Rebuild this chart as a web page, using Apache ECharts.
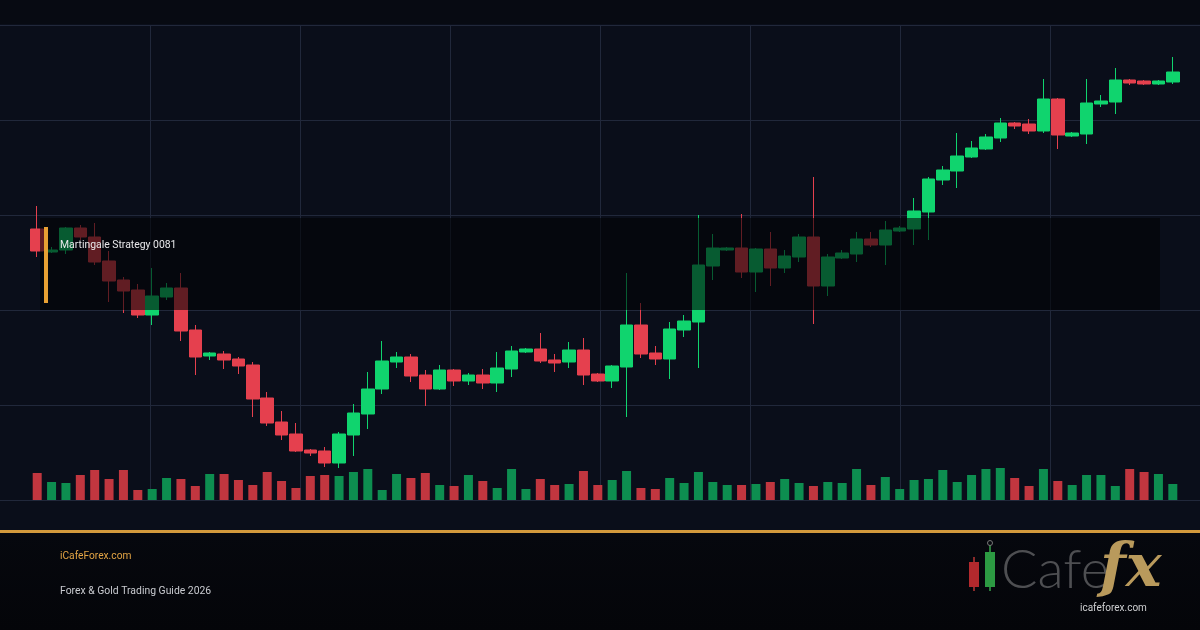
<!DOCTYPE html>
<html>
<head>
<meta charset="utf-8">
<script src="https://cdn.jsdelivr.net/npm/echarts@6/dist/echarts.min.js"></script>
<style>
html,body{margin:0;padding:0;background:#0a0e1a;}
#chart{width:1200px;height:630px;}
</style>
</head>
<body>
<div id="chart"></div>
<script>
// ---- data ----
const categories = [];
for (let i = 1; i <= 80; i++) categories.push('D' + i);

const opens  = [2171,2148,2150,2172,2163,2139,2120,2110,2085,2103,
                2112,2070,2044,2046,2041,2035,2002,1978,1966,1950,
                1949,1937,1965,1986,2011,2038,2043,2025,2011,2030,
                2019,2025,2017,2031,2048,2051,2040,2038,2050,2026,
                2019,2033,2075,2047,2041,2070,2078,2134,2150,2152,
                2128,2151,2132,2143,2163,2114,2142,2146,2161,2155,
                2169,2171,2188,2220,2229,2243,2251,2262,2277,2276,
                2269,2301,2264,2266,2296,2298,2320,2319,2316,2318];
const closes = [2149,2150,2172,2163,2138,2119,2109,2085,2104,2112,
                2069,2043,2047,2040,2034,2001,1977,1965,1949,1947,
                1937,1966,1987,2011,2039,2043,2024,2011,2030,2019,
                2025,2017,2032,2049,2051,2039,2037,2050,2025,2019,
                2034,2075,2046,2041,2071,2079,2135,2152,2152,2128,
                2151,2132,2144,2163,2114,2143,2147,2161,2155,2170,
                2172,2189,2221,2230,2244,2252,2263,2277,2274,2269,
                2301,2265,2267,2297,2299,2320,2317,2316,2319,2328];
const lows   = [2143,2147,2146,2160,2135,2098,2087,2082,2075,2100,
                2059,2025,2040,2031,2026,1983,1974,1960,1948,1944,
                1933,1932,1944,1971,2006,2032,2018,1994,2010,2014,
                2015,2011,2008,2023,2047,2037,2028,2032,2015,2018,
                2012,1983,2042,2035,2021,2063,2032,2120,2149,2122,
                2108,2114,2127,2138,2076,2104,2141,2138,2153,2135,
                2168,2155,2160,2215,2212,2242,2250,2258,2271,2266,
                2267,2251,2263,2256,2293,2286,2315,2315,2315,2316];
const highs  = [2194,2153,2173,2175,2177,2149,2123,2116,2132,2117,
                2127,2075,2048,2049,2043,2038,2008,1989,1977,1951,
                1953,1968,1996,2028,2059,2048,2046,2030,2035,2031,
                2027,2031,2048,2054,2052,2067,2046,2058,2062,2027,
                2035,2127,2097,2054,2078,2085,2185,2166,2153,2186,
                2152,2168,2150,2166,2223,2146,2150,2168,2168,2179,
                2174,2202,2223,2234,2267,2259,2266,2282,2278,2281,
                2321,2302,2268,2321,2305,2332,2321,2320,2320,2343];
const volumes = [2700,1800,1700,2500,3000,2100,3000,1000,1100,2200,
                 2100,1400,2600,2600,2000,1500,2800,1900,1200,2400,
                 2500,2400,2800,3100,1000,2600,2200,2700,1500,1400,
                 2500,1900,1200,3100,1100,2100,1500,1600,2900,1500,
                 2000,2900,1200,1100,2200,1700,2800,1800,1500,1500,
                 1600,1800,2100,1700,1400,1800,1700,3100,1500,2300,
                 1100,2000,2100,3000,1800,2500,3100,3200,2200,1400,
                 3100,1900,1500,2500,2500,1400,3100,2800,2600,1600];

const priceMin = 1900, priceMax = 2375, priceStep = 95;
const overlayLabel = 'Martingale Strategy 0081';
const footerSite = 'iCafeForex.com';
const footerTitle = 'Forex & Gold Trading Guide 2026';
const logoWord = 'Cafe';
const logoFx = 'fx';
const logoUrl = 'icafeforex.com';

const UP = '#10d46e', DOWN = '#e5404e';
const VUP = '#0d8e50', VDOWN = '#c1363f';
const GRIDC = '#21283b';

const candleData = opens.map((o, i) => [o, closes[i], lows[i], highs[i]]);

const chart = echarts.init(document.getElementById('chart'), null, {renderer: 'canvas'});
const hidden = {show: false};

chart.setOption({
  animation: false,
  backgroundColor: '#0a0e1a',
  grid: [
    {left: 30, right: 20, top: 25, bottom: 130},
    {left: 30, right: 20, top: 400, bottom: 130},
    {left: 0, right: 0, top: 25, bottom: 130}
  ],
  xAxis: [
    {type: 'category', data: categories, gridIndex: 0, boundaryGap: true, show: false},
    {type: 'category', data: categories, gridIndex: 1, boundaryGap: true, show: false},
    {type: 'value', gridIndex: 2, min: 0, max: 8, interval: 1,
     axisLine: hidden, axisTick: hidden, axisLabel: hidden,
     splitLine: {show: true, lineStyle: {
       color: ['rgba(0,0,0,0)', GRIDC, GRIDC, GRIDC, GRIDC, GRIDC, GRIDC, GRIDC, 'rgba(0,0,0,0)'], width: 1}}}
  ],
  yAxis: [
    {type: 'value', gridIndex: 0, min: priceMin, max: priceMax, show: false},
    {type: 'value', gridIndex: 1, min: 0, max: 10000, show: false},
    {type: 'value', gridIndex: 2, min: priceMin, max: priceMax, interval: priceStep,
     axisLine: hidden, axisTick: hidden, axisLabel: hidden,
     splitLine: {show: true, lineStyle: {color: GRIDC, width: 1}}}
  ],
  series: [
    {
      type: 'candlestick', xAxisIndex: 0, yAxisIndex: 0, z: 5,
      barWidth: 13,
      data: candleData,
      itemStyle: {color: UP, color0: DOWN, borderColor: UP, borderColor0: DOWN, borderWidth: 1}
    },
    {
      type: 'bar', xAxisIndex: 1, yAxisIndex: 1, z: 4,
      barWidth: 9,
      data: volumes.map((v, i) => ({
        value: v,
        itemStyle: {color: closes[i] >= opens[i] ? VUP : VDOWN}
      }))
    }
  ],
  graphic: {
    elements: [
      {type: 'rect', z: -10, silent: true, shape: {x: 0, y: 0, width: 1200, height: 24},
       style: {fill: '#070a12'}},
      {type: 'rect', z: -10, silent: true, shape: {x: 0, y: 533, width: 1200, height: 97},
       style: {fill: new echarts.graphic.LinearGradient(0, 0, 0, 1, [
         {offset: 0, color: '#06080e'}, {offset: 1, color: '#040509'}])}},
      {type: 'rect', z: 100, silent: true, shape: {x: 0, y: 530, width: 1200, height: 3},
       style: {fill: '#d39a3c'}},
      // overlay panel
      {type: 'rect', z: 100, silent: true, shape: {x: 40, y: 218, width: 1120, height: 92},
       style: {fill: 'rgba(2,3,6,0.58)'}},
      {type: 'rect', z: 101, silent: true, shape: {x: 44, y: 227, width: 4, height: 76},
       style: {fill: '#e8a033'}},
      {type: 'text', z: 101, silent: true,
       style: {text: overlayLabel, x: 60, y: 245, fill: '#e8e8ea',
               font: '10.4px Roboto, "Noto Sans", sans-serif', textVerticalAlign: 'middle'}},
      // footer texts
      {type: 'text', z: 101, silent: true,
       style: {text: footerSite, x: 60, y: 556, fill: '#e3a444',
               font: '10.2px Roboto, "Noto Sans", sans-serif', textVerticalAlign: 'middle'}},
      {type: 'text', z: 101, silent: true,
       style: {text: footerTitle, x: 60, y: 591, fill: '#c9cbd0',
               font: '10.4px Roboto, "Noto Sans", sans-serif', textVerticalAlign: 'middle'}},
      // logo
      {type: 'rect', z: 101, silent: true, shape: {x: 973, y: 557, width: 2, height: 34}, style: {fill: '#8a2a2a'}},
      {type: 'rect', z: 101, silent: true, shape: {x: 969, y: 562, width: 10, height: 25}, style: {fill: '#b3292d'}},
      {type: 'rect', z: 101, silent: true, shape: {x: 989, y: 545, width: 2, height: 46}, style: {fill: '#2a7a3a'}},
      {type: 'circle', z: 101, silent: true, shape: {cx: 990, cy: 543, r: 2.5}, style: {fill: 'none', stroke: '#777', lineWidth: 1}},
      {type: 'rect', z: 101, silent: true, shape: {x: 985, y: 552, width: 10, height: 35}, style: {fill: '#2c9a42'}},
      {type: 'text', z: 101, silent: true,
       style: {text: logoWord, x: 1001, y: 571, fill: '#4e4f52',
               font: '300 54px Lato, "Open Sans", sans-serif', textVerticalAlign: 'middle'}},
      {type: 'text', z: 102, silent: true,
       style: {text: logoFx, x: 1100, y: 570, fill: '#b99a5c',
               font: 'italic bold 60px "DejaVu Serif", "Liberation Serif", serif', textVerticalAlign: 'middle'}},
      {type: 'text', z: 103, silent: true,
       style: {text: logoUrl, x: 1080, y: 608, fill: '#cfd0d2',
               font: '10px Roboto, "Noto Sans", sans-serif', textVerticalAlign: 'middle'}}
    ]
  }
});
</script>
</body>
</html>
